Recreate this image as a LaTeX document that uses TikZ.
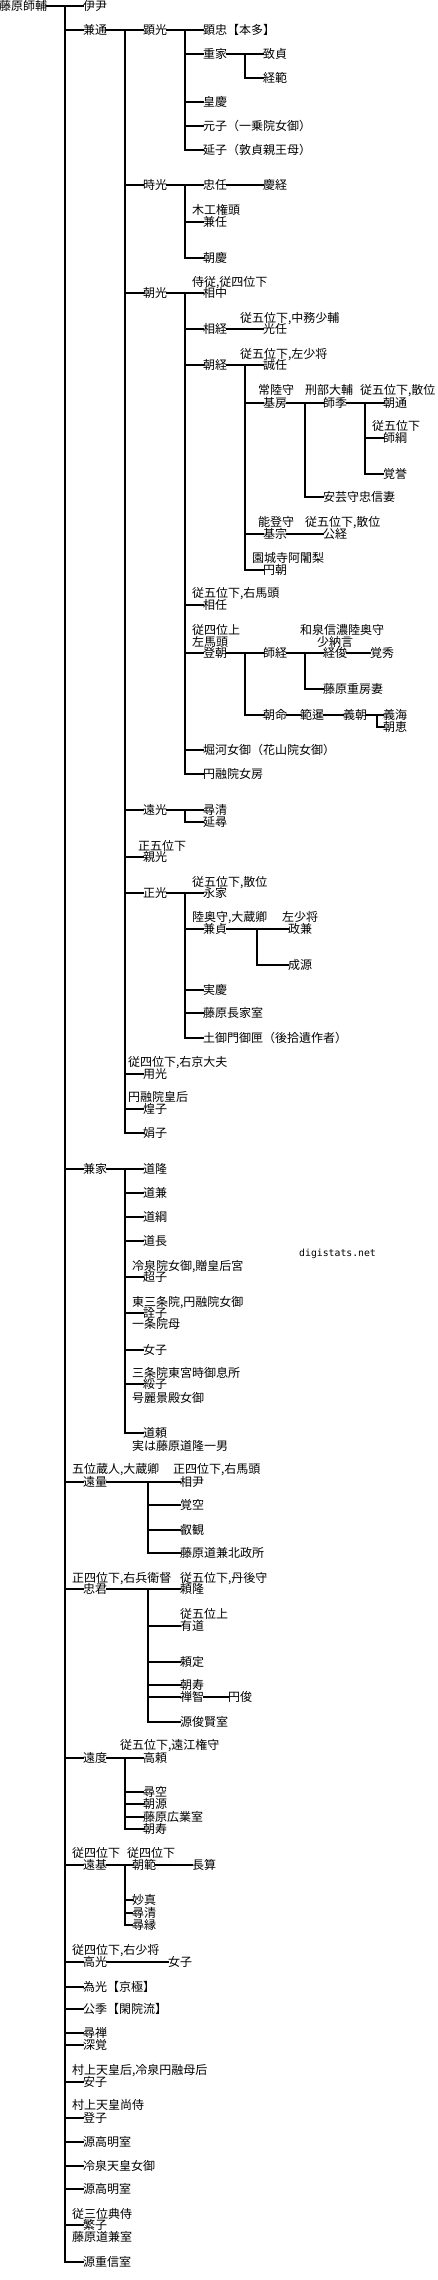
\documentclass[tikz,border=0pt]{standalone}
\usepackage{fontspec}
\setmainfont{Noto Sans CJK JP}
\newfontfamily\wmfont{DejaVu Sans Mono}
\usepackage{tikz}
\tikzset{
  nm/.style={anchor=west, inner sep=0pt, outer sep=0pt,
             font=\fontsize{12}{12}\selectfont, text height=10.5pt, text depth=1.5pt},
  lbl/.style={nm},
  ln/.style={draw=black, line width=2pt, line cap=rect},
  wm/.style={anchor=west, inner sep=0pt, font=\wmfont\fontsize{9.8}{10}\selectfont}
}
\newcommand{\twig}[2]{\draw[ln] (#1 |- #2) -- (#2.west);}

\begin{document}
\begin{tikzpicture}[x=1pt, y=-1pt]
  \useasboundingbox (0,0) rectangle (438,2280);
  % columns of the family bars
  \coordinate (b0) at (65,0);
  \coordinate (b1) at (125,0);
  \coordinate (b2) at (185,0);
  \coordinate (b3) at (245,0);
  \coordinate (b4) at (305,0);
  \coordinate (b5) at (365,0);
  \coordinate (b6) at (377,0);
  \coordinate (b7) at (257,0);
  \coordinate (b8) at (148,0);

  % 師輔 and his children
  \node[nm] (morosuke) at (-1,6) {藤原師輔};
  \node[nm] (koretada) at (83,6) {伊尹};
  \node[nm] (kanemichi) at (83,30) {兼通};
  \node[nm] (kaneie) at (83,1169) {兼家};
  \node[lbl] (l-toohakari) at (72,1469) {五位蔵人,大蔵卿};
  \node[nm] (toohakari) at (83,1482) {遠量};
  \node[lbl] (l-tadakimi) at (72,1578) {正四位下,右兵衛督};
  \node[nm] (tadakimi) at (83,1589) {忠君};
  \node[nm] (toonori) at (83,1758) {遠度};
  \node[lbl] (l-tooki) at (72,1853) {従四位下};
  \node[nm] (tooki) at (83,1865) {遠基};
  \node[lbl] (l-takamitsu) at (72,1950) {従四位下,右少将};
  \node[nm] (takamitsu) at (83,1962) {高光};
  \node[nm] (tamemitsu) at (83,1987) {為光【京極】};
  \node[nm] (kinsue) at (83,2009) {公季【閑院流】};
  \node[nm] (jinzen) at (83,2033) {尋禅};
  \node[nm] (jinkaku) at (83,2045) {深覚};
  \node[lbl] (l-anshi) at (72,2070) {村上天皇后,冷泉円融母后};
  \node[nm] (anshi) at (83,2082) {安子};
  \node[lbl] (l-toshi) at (72,2105) {村上天皇尚侍};
  \node[nm] (toshi) at (83,2118) {登子};
  \node[nm] (takaakira1) at (83,2142) {源高明室};
  \node[nm] (reizeinyogo) at (83,2166) {冷泉天皇女御};
  \node[nm] (takaakira2) at (83,2189) {源高明室};
  \node[lbl] (l-hanshi) at (72,2214) {従三位典侍};
  \node[nm] (hanshi) at (83,2225) {繁子};
  \node[lbl] (s-hanshi) at (72,2237) {藤原道兼室};
  \node[nm] (shigenobu) at (83,2262) {源重信室};

  % 兼通 line
  \node[nm] (akimitsu) at (143,30) {顕光};
  \node[nm] (tokimitsu) at (143,185) {時光};
  \node[nm] (asamitsu) at (143,293) {朝光};
  \node[nm] (toomitsu) at (143,810) {遠光};
  \node[lbl] (l-chikamitsu) at (138,846) {正五位下};
  \node[nm] (chikamitsu) at (143,857) {親光};
  \node[nm] (masamitsu) at (143,893) {正光};
  \node[lbl] (l-mochimitsu) at (128,1062) {従四位下,右京大夫};
  \node[nm] (mochimitsu) at (143,1074) {用光};
  \node[lbl] (l-koushi) at (128,1097) {円融院皇后};
  \node[nm] (koushi) at (143,1109) {煌子};
  \node[nm] (kenshi) at (143,1133) {娟子};

  % 顕光
  \node[nm] (akitada) at (203,30) {顕忠【本多】};
  \node[nm] (shigeie) at (203,54) {重家};
  \node[nm] (kougei) at (203,102) {皇慶};
  \node[nm] (genshi) at (203,126) {元子（一乗院女御）};
  \node[nm] (enshi) at (203,150) {延子（敦貞親王母）};
  \node[nm] (munesada) at (263,54) {致貞};
  \node[nm] (tsunenori) at (263,78) {経範};

  % 時光
  \node[nm] (tadatou) at (203,185) {忠任};
  \node[nm] (yoshitsune) at (263,185) {慶経};
  \node[lbl] (l-kanetou) at (192,210) {木工権頭};
  \node[nm] (kanetou) at (203,222) {兼任};
  \node[nm] (tomoyoshi) at (203,258) {朝慶};

  % 朝光
  \node[lbl] (l-sukenaka) at (192,282) {侍従,従四位下};
  \node[nm] (sukenaka) at (203,293) {相中};
  \node[nm] (suketsune) at (203,329) {相経};
  \node[lbl] (l-mitsutou) at (240,318) {従五位下,中務少輔};
  \node[nm] (mitsutou) at (263,329) {光任};
  \node[nm] (tomotsune) at (203,365) {朝経};
  \node[lbl] (l-nobutou) at (240,354) {従五位下,左少将};
  \node[nm] (nobutou) at (263,365) {誠任};
  \node[lbl] (l-motofusa) at (258,390) {常陸守};
  \node[nm] (motofusa) at (263,403) {基房};
  \node[lbl] (l-morosue) at (305,390) {刑部大輔};
  \node[nm] (morosue) at (323,403) {師季};
  \node[lbl] (l-tomomichi) at (360,390) {従五位下,散位};
  \node[nm] (tomomichi) at (383,403) {朝通};
  \node[lbl] (l-morotsuna) at (372,426) {従五位下};
  \node[nm] (morotsuna) at (383,438) {師綱};
  \node[nm] (kakuyo) at (383,474) {覚誉};
  \node[nm] (akitsuma) at (323,497) {安芸守忠信妻};
  \node[lbl] (l-motomune) at (258,522) {能登守};
  \node[nm] (motomune) at (263,534) {基宗};
  \node[lbl] (l-kintsune) at (305,522) {従五位下,散位};
  \node[nm] (kintsune) at (323,534) {公経};
  \node[lbl] (l-enchou) at (252,558) {園城寺阿闍梨};
  \node[nm] (enchou) at (263,570) {円朝};
  \node[lbl] (l-suketou) at (192,593) {従五位下,右馬頭};
  \node[nm] (suketou) at (203,605) {相任};
  \node[lbl] (l-naritomo) at (192,630) {従四位上};
  \node[lbl] (m-naritomo) at (192,642) {左馬頭};
  \node[nm] (naritomo) at (203,653) {登朝};
  \node[nm] (morotsune) at (263,653) {師経};
  \node[lbl] (l-tsunetoshi) at (300,630) {和泉信濃陸奥守};
  \node[lbl] (m-tsunetoshi) at (317,642) {少納言};
  \node[nm] (tsunetoshi) at (323,653) {経俊};
  \node[nm] (kakushuu) at (370,653) {覚秀};
  \node[nm] (shigefusa) at (323,689) {藤原重房妻};
  \node[nm] (tomonori) at (263,715) {朝命};
  \node[nm] (hanzen) at (300,715) {範暹};
  \node[nm] (yoshitomo) at (343,715) {義朝};
  \node[nm] (gikai) at (383,715) {義海};
  \node[nm] (choue) at (383,727) {朝恵};
  \node[nm] (horikawa) at (203,750) {堀河女御（花山院女御）};
  \node[nm] (nyoubou) at (203,774) {円融院女房};

  % 遠光, 正光
  \node[nm] (jinsei) at (203,810) {尋清};
  \node[nm] (enjin) at (203,822) {延尋};
  \node[lbl] (l-nagaie) at (192,882) {従五位下,散位};
  \node[nm] (nagaie) at (203,893) {永家};
  \node[lbl] (l-kanesada) at (192,917) {陸奥守,大蔵卿};
  \node[nm] (kanesada) at (203,929) {兼貞};
  \node[lbl] (l-masakane) at (282,917) {左少将};
  \node[nm] (masakane) at (288,929) {政兼};
  \node[nm] (jougen) at (288,965) {成源};
  \node[nm] (jikkei) at (203,990) {実慶};
  \node[nm] (nagaieshitsu) at (203,1013) {藤原長家室};
  \node[nm] (mikushige) at (203,1038) {土御門御匣（後拾遺作者）};

  % 兼家
  \node[nm] (michitaka) at (143,1169) {道隆};
  \node[nm] (michikane) at (143,1193) {道兼};
  \node[nm] (michitsuna) at (143,1217) {道綱};
  \node[nm] (michinaga) at (143,1241) {道長};
  \node[lbl] (l-choushi) at (132,1266) {冷泉院女御,贈皇后宮};
  \node[nm] (choushi) at (143,1277) {超子};
  \node[lbl] (l-senshi) at (132,1302) {東三条院,円融院女御};
  \node[nm] (senshi) at (143,1313) {詮子};
  \node[lbl] (s-senshi) at (132,1324) {一条院母};
  \node[nm] (nyoshi1) at (143,1350) {女子};
  \node[lbl] (l-suishi) at (132,1373) {三条院東宮時御息所};
  \node[nm] (suishi) at (143,1384) {綏子};
  \node[lbl] (s-suishi) at (132,1398) {号麗景殿女御};
  \node[nm] (michiyori) at (143,1433) {道頼};
  \node[lbl] (s-michiyori) at (132,1446) {実は藤原道隆一男};
  \node[wm] (site) at (299,1254) {digistats.net};

  % 遠量, 忠君
  \node[lbl] (l-sukemasa) at (173,1469) {正四位下,右馬頭};
  \node[nm] (sukemasa) at (180,1482) {相尹};
  \node[nm] (kakkuu) at (180,1505) {覚空};
  \node[nm] (eikan) at (180,1530) {叡観};
  \node[nm] (kitamando) at (180,1553) {藤原道兼北政所};
  \node[lbl] (l-yoritaka) at (180,1578) {従五位下,丹後守};
  \node[nm] (yoritaka) at (180,1589) {頼隆};
  \node[lbl] (l-arimichi) at (180,1614) {従五位上};
  \node[nm] (arimichi) at (180,1626) {有道};
  \node[nm] (yorisada) at (180,1662) {頼定};
  \node[nm] (tomohisa) at (180,1685) {朝寿};
  \node[nm] (zenchi) at (180,1697) {禅智};
  \node[nm] (enshun) at (228,1697) {円俊};
  \node[nm] (toshikata) at (180,1722) {源俊賢室};

  % 遠度, 遠基, 高光
  \node[lbl] (l-takayori) at (120,1745) {従五位下,遠江権守};
  \node[nm] (takayori) at (143,1758) {高頼};
  \node[nm] (jinkuu) at (143,1792) {尋空};
  \node[nm] (chougen) at (143,1804) {朝源};
  \node[nm] (hironari) at (143,1817) {藤原広業室};
  \node[nm] (tomohisa2) at (143,1829) {朝寿};
  \node[lbl] (l-tomonori2) at (127,1853) {従四位下};
  \node[nm] (tomonori2) at (132,1865) {朝範};
  \node[nm] (chousan) at (192,1865) {長算};
  \node[nm] (myoushin) at (132,1900) {妙真};
  \node[nm] (jinsei2) at (132,1913) {尋清};
  \node[nm] (jinen) at (132,1925) {尋縁};
  \node[nm] (nyoshi2) at (168,1962) {女子};

  % trunk
  \draw[ln] (morosuke.east) -- (koretada.west);
  \draw[ln] (b0 |- koretada) -- (b0 |- shigenobu);
  \foreach \c in {kanemichi,kaneie,toohakari,tadakimi,toonori,tooki,takamitsu,
    tamemitsu,kinsue,jinzen,jinkaku,anshi,toshi,takaakira1,reizeinyogo,
    takaakira2,hanshi,shigenobu} \twig{b0}{\c};

  % 兼通
  \draw[ln] (kanemichi.east) -- (akimitsu.west);
  \draw[ln] (b1 |- akimitsu) -- (b1 |- kenshi);
  \foreach \c in {tokimitsu,asamitsu,toomitsu,chikamitsu,masamitsu,mochimitsu,
    koushi,kenshi} \twig{b1}{\c};

  \draw[ln] (akimitsu.east) -- (akitada.west);
  \draw[ln] (b2 |- akitada) -- (b2 |- enshi);
  \foreach \c in {shigeie,kougei,genshi,enshi} \twig{b2}{\c};
  \draw[ln] (shigeie.east) -- (munesada.west);
  \draw[ln] (b3 |- munesada) -- (b3 |- tsunenori);
  \twig{b3}{tsunenori}

  \draw[ln] (tokimitsu.east) -- (tadatou.west);
  \draw[ln] (tadatou.east) -- (yoshitsune.west);
  \draw[ln] (b2 |- tadatou) -- (b2 |- tomoyoshi);
  \foreach \c in {kanetou,tomoyoshi} \twig{b2}{\c};

  \draw[ln] (asamitsu.east) -- (sukenaka.west);
  \draw[ln] (b2 |- sukenaka) -- (b2 |- nyoubou);
  \foreach \c in {suketsune,tomotsune,suketou,naritomo,horikawa,nyoubou} \twig{b2}{\c};
  \draw[ln] (suketsune.east) -- (mitsutou.west);
  \draw[ln] (tomotsune.east) -- (nobutou.west);
  \draw[ln] (b3 |- nobutou) -- (b3 |- enchou);
  \foreach \c in {motofusa,motomune,enchou} \twig{b3}{\c};
  \draw[ln] (motofusa.east) -- (morosue.west);
  \draw[ln] (b4 |- morosue) -- (b4 |- akitsuma);
  \twig{b4}{akitsuma}
  \draw[ln] (morosue.east) -- (tomomichi.west);
  \draw[ln] (b5 |- tomomichi) -- (b5 |- kakuyo);
  \foreach \c in {morotsuna,kakuyo} \twig{b5}{\c};
  \draw[ln] (motomune.east) -- (kintsune.west);
  \draw[ln] (naritomo.east) -- (morotsune.west);
  \draw[ln] (b3 |- morotsune) -- (b3 |- tomonori);
  \twig{b3}{tomonori}
  \draw[ln] (morotsune.east) -- (tsunetoshi.west);
  \draw[ln] (b4 |- tsunetoshi) -- (b4 |- shigefusa);
  \twig{b4}{shigefusa}
  \draw[ln] (tsunetoshi.east) -- (kakushuu.west);
  \draw[ln] (tomonori.east) -- (hanzen.west);
  \draw[ln] (hanzen.east) -- (yoshitomo.west);
  \draw[ln] (yoshitomo.east) -- (gikai.west);
  \draw[ln] (b6 |- gikai) -- (b6 |- choue);
  \twig{b6}{choue}

  \draw[ln] (toomitsu.east) -- (jinsei.west);
  \draw[ln] (b2 |- jinsei) -- (b2 |- enjin);
  \twig{b2}{enjin}

  \draw[ln] (masamitsu.east) -- (nagaie.west);
  \draw[ln] (b2 |- nagaie) -- (b2 |- mikushige);
  \foreach \c in {kanesada,jikkei,nagaieshitsu,mikushige} \twig{b2}{\c};
  \draw[ln] (kanesada.east) -- (masakane.west);
  \draw[ln] (b7 |- masakane) -- (b7 |- jougen);
  \twig{b7}{jougen}

  % 兼家
  \draw[ln] (kaneie.east) -- (michitaka.west);
  \draw[ln] (b1 |- michitaka) -- (b1 |- michiyori);
  \foreach \c in {michikane,michitsuna,michinaga,choushi,senshi,nyoshi1,suishi,
    michiyori} \twig{b1}{\c};

  % 遠量, 忠君
  \draw[ln] (toohakari.east) -- (sukemasa.west);
  \draw[ln] (b8 |- sukemasa) -- (b8 |- kitamando);
  \foreach \c in {kakkuu,eikan,kitamando} \twig{b8}{\c};
  \draw[ln] (tadakimi.east) -- (yoritaka.west);
  \draw[ln] (b8 |- yoritaka) -- (b8 |- toshikata);
  \foreach \c in {arimichi,yorisada,tomohisa,zenchi,toshikata} \twig{b8}{\c};
  \draw[ln] (zenchi.east) -- (enshun.west);

  % 遠度, 遠基, 高光
  \draw[ln] (toonori.east) -- (takayori.west);
  \draw[ln] (b1 |- takayori) -- (b1 |- tomohisa2);
  \foreach \c in {jinkuu,chougen,hironari,tomohisa2} \twig{b1}{\c};
  \draw[ln] (tooki.east) -- (tomonori2.west);
  \draw[ln] (b1 |- tomonori2) -- (b1 |- jinen);
  \foreach \c in {myoushin,jinsei2,jinen} \twig{b1}{\c};
  \draw[ln] (tomonori2.east) -- (chousan.west);
  \draw[ln] (takamitsu.east) -- (nyoshi2.west);
\end{tikzpicture}
\end{document}
